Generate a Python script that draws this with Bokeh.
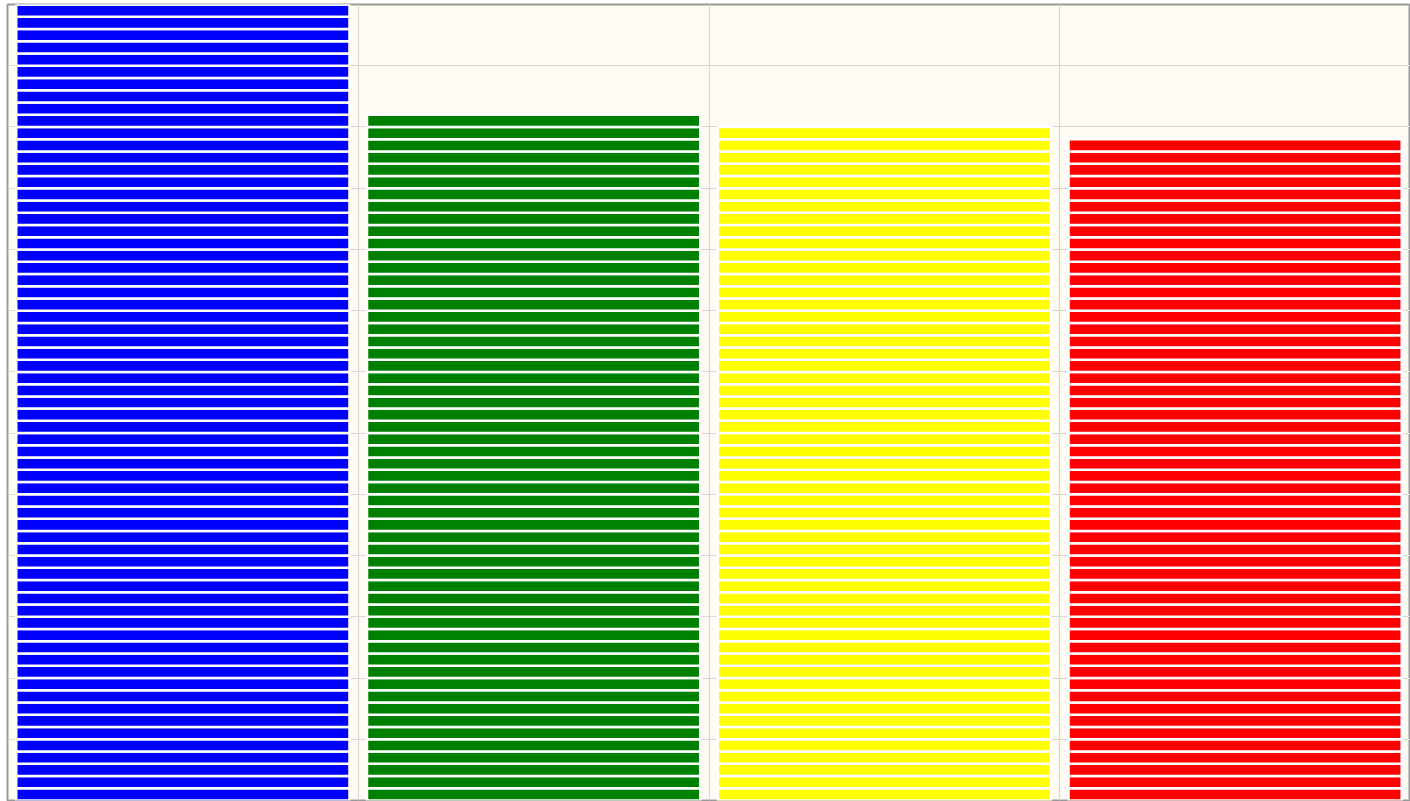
from bokeh.plotting import figure
from bokeh.models import ColumnDataSource, FixedTicker, SingleIntervalTicker, Range1d
from bokeh.embed import file_html
from bokeh.resources import INLINE

# Data: each category is drawn as a stack of unit blocks
categories = ["A", "B", "C", "D"]
counts = [66, 56, 55, 54]
colors = ["#0000ff", "#008000", "#ffff00", "#ff0000"]

xs, bottoms, tops, fills = [], [], [], []
for i, (c, n, col) in enumerate(zip(categories, counts, colors)):
    for k in range(n):
        xs.append(i + 0.5)
        bottoms.append(k)
        tops.append(k + 1)
        fills.append(col)

src = ColumnDataSource(dict(x=xs, bottom=bottoms, top=tops, color=fills))

p = figure(width=1410, height=801, output_backend="svg", toolbar_location=None,
           x_range=Range1d(0, len(categories)), y_range=Range1d(0, 65),
           x_axis_location=None, y_axis_location=None,
           min_border_left=7, min_border_top=4, min_border_bottom=1, min_border_right=0)

p.background_fill_color = "#fffcf4"
p.border_fill_color = "white"
p.outline_line_color = "#999999"
p.outline_line_width = 2

p.xgrid.ticker = FixedTicker(ticks=list(range(1, len(categories))))
p.ygrid.ticker = SingleIntervalTicker(interval=5)
p.xgrid.grid_line_color = "#d8d8d8"
p.ygrid.grid_line_color = "#d8d8d8"
p.xgrid.grid_line_width = 1.2
p.ygrid.grid_line_width = 1.2

p.vbar(x="x", bottom="bottom", top="top", width=0.95, source=src,
       fill_color="color", line_color="white", line_width=2.5)

open("out.html", "w").write(file_html(p, INLINE))
